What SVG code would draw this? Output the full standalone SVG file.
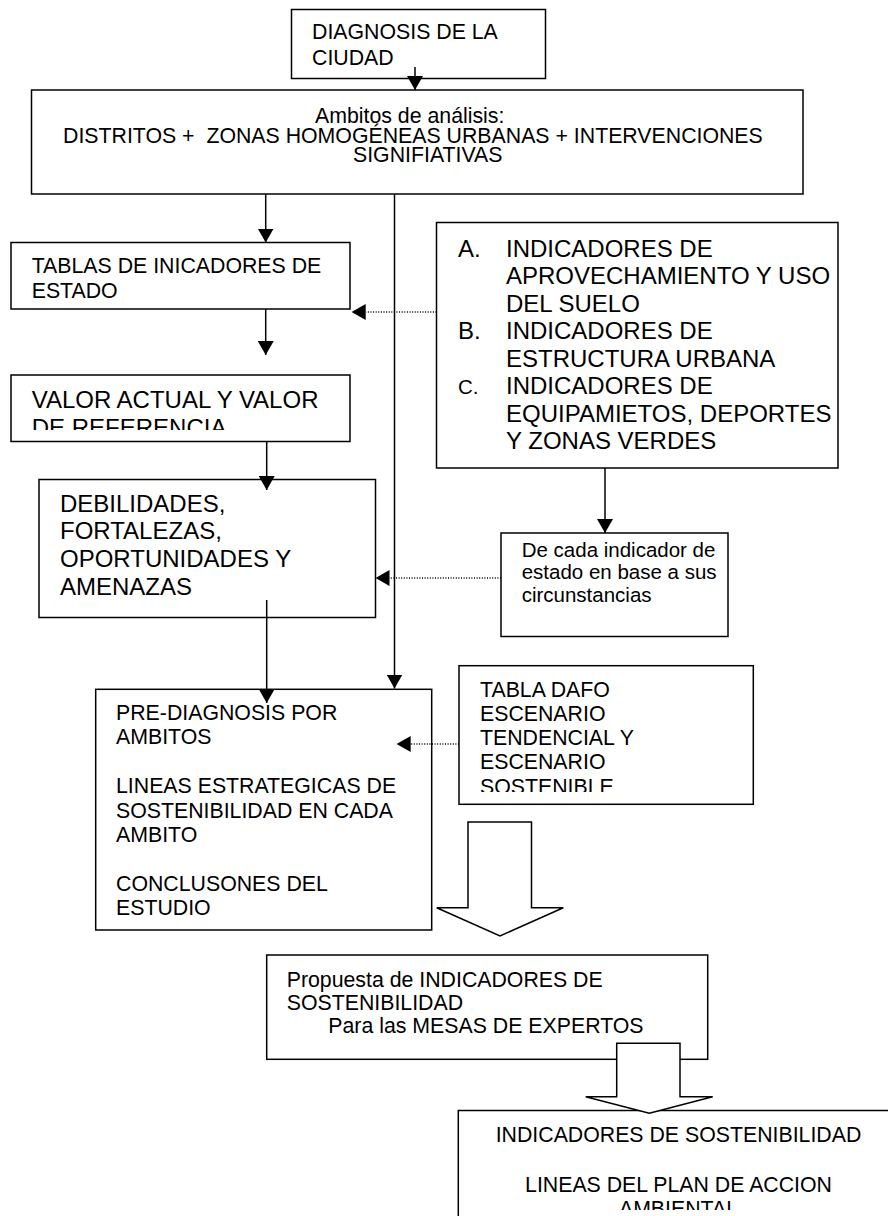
<svg xmlns="http://www.w3.org/2000/svg" width="888" height="1216" viewBox="0 0 888 1216">
<style>
.box{fill:#fff;stroke:#000;stroke-width:1.5}
.t{font-family:"Liberation Sans",Arial,sans-serif;font-size:21.3px;fill:#000}
.t24{font-family:"Liberation Sans",Arial,sans-serif;font-size:24px;fill:#000}
.t20{font-family:"Liberation Sans",Arial,sans-serif;font-size:20.5px;fill:#000}
.ln{fill:none;stroke:#000;stroke-width:1.5}
.dot{fill:none;stroke:#000;stroke-width:1.3;stroke-dasharray:1 1.6}
.blk{fill:#fff;stroke:#000;stroke-width:1.5;stroke-linejoin:miter}
</style>
<defs>
<marker id="ah" markerUnits="userSpaceOnUse" markerWidth="14" markerHeight="16" viewBox="0 0 14 16" refX="14" refY="8" orient="auto">
<path d="M0,0 L14,8 L0,16 z" fill="#000"/>
</marker>
<clipPath id="cValor"><rect x="0" y="370" width="360" height="60"/></clipPath>
<clipPath id="cDafo"><rect x="455" y="660" width="300" height="132"/></clipPath>
<clipPath id="cFinal"><rect x="455" y="1105" width="433" height="105"/></clipPath>
</defs>

<g id="n-diagnosis">
<rect class="box" x="291.5" y="9.5" width="254" height="69"/>
<text class="t" x="312" y="39">DIAGNOSIS DE LA</text>
<text class="t" x="312" y="64.5">CIUDAD</text>
</g>

<g id="n-ambitos">
<rect class="box" x="31.5" y="90" width="771.5" height="104"/>
<text class="t" x="315" y="123">Ambitos de análisis:</text>
<text class="t" x="63" y="143" xml:space="preserve">DISTRITOS +  ZONAS HOMOGÉNEAS URBANAS + INTERVENCIONES</text>
<text class="t" x="353" y="162">SIGNIFIATIVAS</text>
</g>

<g id="n-tablas">
<rect class="box" x="11" y="242.5" width="339" height="66.5"/>
<text class="t" x="31.7" y="273.3">TABLAS DE INICADORES DE</text>
<text class="t" x="31.7" y="297.7">ESTADO</text>
</g>

<g id="n-valor">
<rect class="box" x="11" y="375" width="339" height="66.5"/>
<g clip-path="url(#cValor)">
<text class="t24" x="31.7" y="408">VALOR ACTUAL Y VALOR</text>
<text class="t24" x="31.7" y="435.6">DE REFERENCIA</text>
</g>
</g>

<g id="n-dafo-text">
<rect class="box" x="39" y="479.5" width="336.5" height="138"/>
<text class="t24" x="60" y="511.7">DEBILIDADES,</text>
<text class="t24" x="60" y="539.4">FORTALEZAS,</text>
<text class="t24" x="60" y="567.1">OPORTUNIDADES Y</text>
<text class="t24" x="60" y="594.8">AMENAZAS</text>
</g>

<g id="n-indicadores">
<rect class="box" x="436.5" y="222.5" width="401.5" height="245.5"/>
<text class="t24" x="458" y="256.7">A.</text>
<text class="t24" x="506" y="256.7">INDICADORES DE</text>
<text class="t24" x="506" y="284.2">APROVECHAMIENTO Y USO</text>
<text class="t24" x="506" y="311.7">DEL SUELO</text>
<text class="t24" x="458" y="339.2">B.</text>
<text class="t24" x="506" y="339.2">INDICADORES DE</text>
<text class="t24" x="506" y="366.7">ESTRUCTURA URBANA</text>
<text class="t20" x="458" y="394.2">C.</text>
<text class="t24" x="506" y="394.2">INDICADORES DE</text>
<text class="t24" x="506" y="421.7">EQUIPAMIETOS, DEPORTES</text>
<text class="t24" x="506" y="449.2">Y ZONAS VERDES</text>
</g>

<g id="n-decada">
<rect class="box" x="501" y="533" width="227" height="103.5"/>
<text class="t20" x="521.7" y="556.7">De cada indicador de</text>
<text class="t20" x="521.7" y="579">estado en base a sus</text>
<text class="t20" x="521.7" y="601.5">circunstancias</text>
</g>

<g id="n-prediagnosis">
<rect class="box" x="95.7" y="689.3" width="336" height="240.7"/>
<text class="t" x="116" y="720">PRE-DIAGNOSIS POR</text>
<text class="t" x="116" y="744.4">AMBITOS</text>
<text class="t" x="116" y="793.2">LINEAS ESTRATEGICAS DE</text>
<text class="t" x="116" y="817.6">SOSTENIBILIDAD EN CADA</text>
<text class="t" x="116" y="842">AMBITO</text>
<text class="t" x="116" y="890.8">CONCLUSONES DEL</text>
<text class="t" x="116" y="915.2">ESTUDIO</text>
</g>

<g id="n-tabladafo">
<rect class="box" x="459" y="665.7" width="294.3" height="138.6"/>
<g clip-path="url(#cDafo)">
<text class="t" x="480" y="696.7">TABLA DAFO</text>
<text class="t" x="480" y="720.9">ESCENARIO</text>
<text class="t" x="480" y="745.1">TENDENCIAL Y</text>
<text class="t" x="480" y="769.3">ESCENARIO</text>
<text class="t" x="480" y="793.5">SOSTENIBLE</text>
</g>
</g>

<g id="n-propuesta">
<rect class="box" x="266.7" y="955" width="441" height="104.3"/>
<text class="t" x="286.7" y="986.7">Propuesta de INDICADORES DE</text>
<text class="t" x="286.7" y="1010">SOSTENIBILIDAD</text>
<text class="t" x="328.3" y="1033.3">Para las MESAS DE EXPERTOS</text>
</g>

<g id="n-final">
<rect class="box" x="458.3" y="1110.5" width="460" height="200"/>
<g clip-path="url(#cFinal)">
<text class="t" x="678.5" y="1141.7" text-anchor="middle">INDICADORES DE SOSTENIBILIDAD</text>
<text class="t" x="678.5" y="1191.7" text-anchor="middle">LINEAS DEL PLAN DE ACCION</text>
<text class="t" x="678.5" y="1216" text-anchor="middle">AMBIENTAL</text>
</g>
</g>

<g id="connectors">
<path class="ln" d="M415,67 V90" marker-end="url(#ah)"/>
<path class="ln" d="M265.7,194 V242.5" marker-end="url(#ah)"/>
<path class="ln" d="M265.7,309 V355" marker-end="url(#ah)"/>
<path class="ln" d="M266.7,441.5 V490" marker-end="url(#ah)"/>
<path class="ln" d="M266.7,600 V703" marker-end="url(#ah)"/>
<path class="ln" d="M394.5,194 V688.5" marker-end="url(#ah)"/>
<path class="ln" d="M605,468 V533" marker-end="url(#ah)"/>
<path class="dot" d="M436.5,312 H366"/>
<path class="ln" d="M366,312 H351.7" marker-end="url(#ah)" stroke-opacity="0"/>
<path class="dot" d="M501,578 H389"/>
<path class="ln" d="M389,578 H375.5" marker-end="url(#ah)" stroke-opacity="0"/>
<path class="dot" d="M459,744 H410"/>
<path class="ln" d="M410,744 H396.7" marker-end="url(#ah)" stroke-opacity="0"/>
<polygon class="blk" points="468,822 531.5,822 531.5,907.7 563.3,907.7 500,936 436.7,907.7 468,907.7"/>
<polygon class="blk" points="616.7,1043.3 680,1043.3 680,1096.7 712.7,1096.7 649.3,1113.3 585.7,1096.7 616.7,1096.7"/>
</g>
</svg>
